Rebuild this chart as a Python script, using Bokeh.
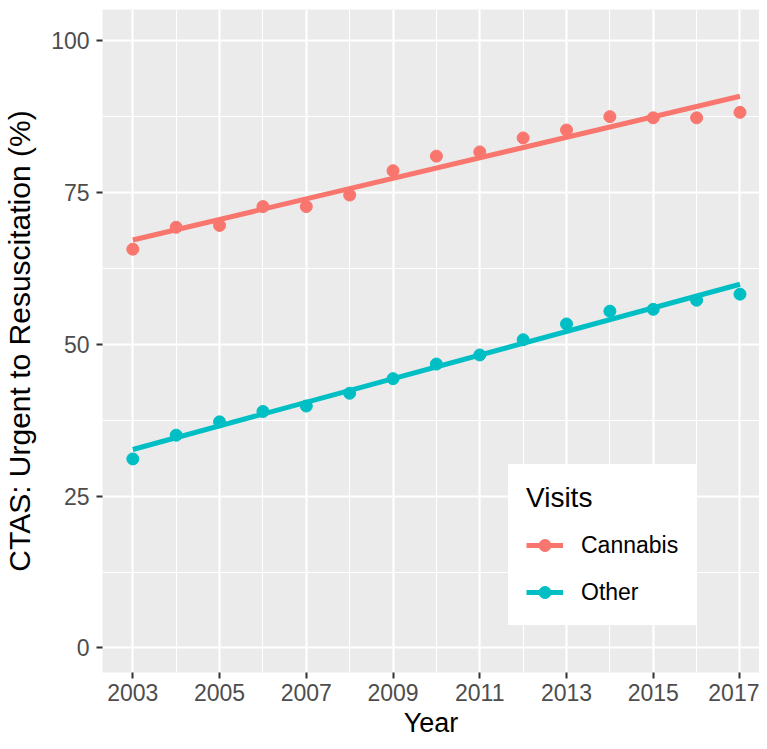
import numpy as np
from bokeh.plotting import figure
from bokeh.models import FixedTicker, Range1d, Legend, LegendItem
from bokeh.embed import file_html
from bokeh.resources import INLINE

# ---- data ----
years = list(range(2003, 2018))
cannabis = [65.6, 69.2, 69.5, 72.6, 72.6, 74.5, 78.5, 80.9, 81.6, 83.9, 85.2, 87.4, 87.2, 87.2, 88.1]
other = [31.1, 35.0, 37.2, 38.9, 39.8, 41.9, 44.3, 46.7, 48.2, 50.7, 53.3, 55.4, 55.7, 57.2, 58.2]
series_names = ["Cannabis", "Other"]
series_colors = ["#F8766D", "#00BFC4"]
x_ticks = list(range(2003, 2018, 2))
x_minor = list(range(2004, 2017, 2))
y_ticks = [0, 25, 50, 75, 100]
y_minor = [12.5, 37.5, 62.5, 87.5]

FONT = "Liberation Sans"

p = figure(width=759, height=741, output_backend="svg", toolbar_location=None,
           x_range=Range1d(2002.301, 2017.45), y_range=Range1d(-4.03, 105.02),
           min_border_left=102, min_border_right=0, min_border_top=9, min_border_bottom=69)

p.background_fill_color = "#EBEBEB"
p.border_fill_color = "white"
p.outline_line_color = None

p.xaxis.ticker = FixedTicker(ticks=x_ticks, minor_ticks=x_minor)
p.yaxis.ticker = FixedTicker(ticks=y_ticks, minor_ticks=y_minor)

for g in (p.xgrid, p.ygrid):
    g.grid_line_color = "white"
    g.grid_line_width = 2.2
    g.minor_grid_line_color = "white"
    g.minor_grid_line_width = 1.1

for ax in (p.xaxis, p.yaxis):
    ax.axis_line_color = None
    ax.major_tick_line_color = "#333333"
    ax.major_tick_line_width = 2
    ax.major_tick_out = 6
    ax.major_tick_in = 0
    ax.minor_tick_line_color = None
    ax.major_label_text_font = FONT
    ax.major_label_text_font_size = "23px"
    ax.major_label_text_color = "#4D4D4D"
    ax.axis_label_text_font = FONT
    ax.axis_label_text_font_style = "normal"
    ax.axis_label_text_color = "black"

p.xaxis.axis_label = "Year"
p.yaxis.axis_label = "CTAS: Urgent to Resuscitation (%)"
p.xaxis.axis_label_text_font_size = "27px"
p.yaxis.axis_label_text_font_size = "30px"
p.xaxis.major_label_standoff = 5
p.yaxis.major_label_standoff = 7
p.xaxis.axis_label_standoff = 4
p.yaxis.axis_label_standoff = 12

items = []
for name, vals, col in zip(series_names, [cannabis, other], series_colors):
    slope, intercept = np.polyfit(years, vals, 1)
    fx = [years[0], years[-1]]
    fy = [intercept + slope * x for x in fx]
    lr = p.line(fx, fy, line_color=col, line_width=5)
    sr = p.scatter(years, vals, size=12, color=col)
    items.append(LegendItem(label=name, renderers=[lr, sr]))

legend = Legend(items=items, location=(406, 47), title="Visits")
legend.title_text_font = FONT
legend.title_text_font_size = "28px"
legend.title_text_font_style = "normal"
legend.title_text_color = "black"
legend.title_standoff = 16
legend.label_text_font = FONT
legend.label_text_font_size = "23px"
legend.label_text_color = "black"
legend.glyph_width = 37
legend.glyph_height = 30
legend.spacing = 17
legend.padding = 17
legend.label_standoff = 18
legend.border_line_color = "white"
legend.border_line_alpha = 1.0
legend.border_line_width = 1
legend.background_fill_color = "white"
legend.background_fill_alpha = 1.0
p.add_layout(legend, "center")

open("out.html", "w").write(file_html(p, INLINE))
